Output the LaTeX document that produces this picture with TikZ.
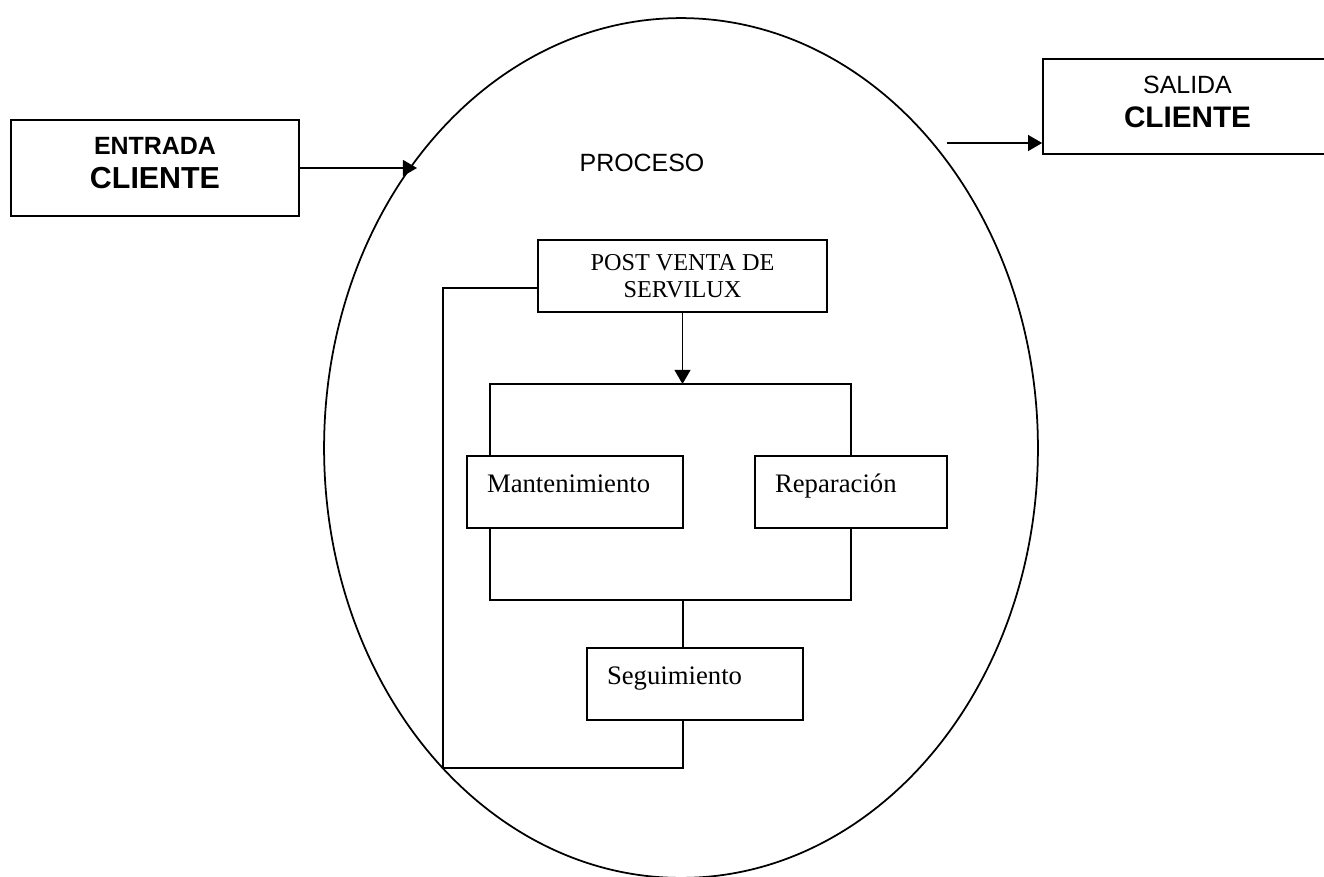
\documentclass[tikz,border=0pt]{standalone}
\usepackage{fontspec}
\setmainfont{Liberation Serif}
\setsansfont{Liberation Sans}
\usetikzlibrary{calc,arrows.meta}

\tikzset{
  link/.style={line width=1pt},
  flow/.style={line width=1pt,-{Triangle[length=8pt,width=9pt]}},
  sbox/.style={draw,line width=1pt,align=center,font=\sffamily\fontsize{14.2pt}{19.35pt}\selectfont},
  wbox/.style={draw,line width=1pt,align=left,font=\fontsize{15.2pt}{18pt}\selectfont,
    inner xsep=0.4cm,inner ysep=0pt,text height=0.72cm,text depth=0.72cm}
}

\begin{document}
\begin{tikzpicture}[x=0.02cm,y=-0.02cm]
\useasboundingbox (0,0) rectangle (1324,876);
\coordinate (proc) at (681,448);
\draw[link] (proc) ellipse [x radius=7.14cm, y radius=8.6cm];
\node (proclbl) at (642,163) {\sffamily\fontsize{14.2pt}{17pt}\selectfont PROCESO};
\node[sbox,minimum width=5.76cm,minimum height=1.92cm,text depth=0.2cm] (entrada) at (155,168)
  {{\bfseries ENTRADA}\\{\fontsize{17.3pt}{19.35pt}\selectfont\bfseries CLIENTE}};
\node[sbox,minimum width=5.78cm,minimum height=1.9cm,text depth=0.2cm] (salida) at (1187.5,106.5)
  {SALIDA\\{\fontsize{16.9pt}{19.35pt}\selectfont\bfseries CLIENTE}};
\node[draw,link,align=center,font=\fontsize{13.8pt}{15.4pt}\selectfont,
  minimum width=5.78cm,minimum height=1.44cm] (post) at (682.5,276) {POST VENTA DE\\SERVILUX};
\node[wbox,text width=3.52cm] (mant) at (575,492) {Mantenimiento};
\node[wbox,text width=3.04cm] (rep) at (851,492) {Reparación};
\node[wbox,text width=3.52cm] (seg) at (695,684) {Seguimiento};
\coordinate (inE) at (417,168);
\coordinate (outS) at (947,143);
\coordinate (jTop) at (683,384);
\coordinate (jBot) at (683,600);
\coordinate (loopL) at (443,768);
\draw[flow] (entrada.east) -- (inE);
\draw[flow] (outS) -- (outS -| salida.west);
\draw[flow] (post.south) -- (post.south |- jTop);
\draw[link] ([xshift=0.48cm]mant.north west) |- (jTop) -| (rep.north);
\draw[link] ([xshift=0.48cm]mant.south west) |- (jBot) -| (rep.south);
\draw[link] (jBot) -- (jBot |- seg.north);
\draw[link] (jBot |- seg.south) |- (loopL) |- ([yshift=-0.24cm]post.west);
\end{tikzpicture}
\end{document}
